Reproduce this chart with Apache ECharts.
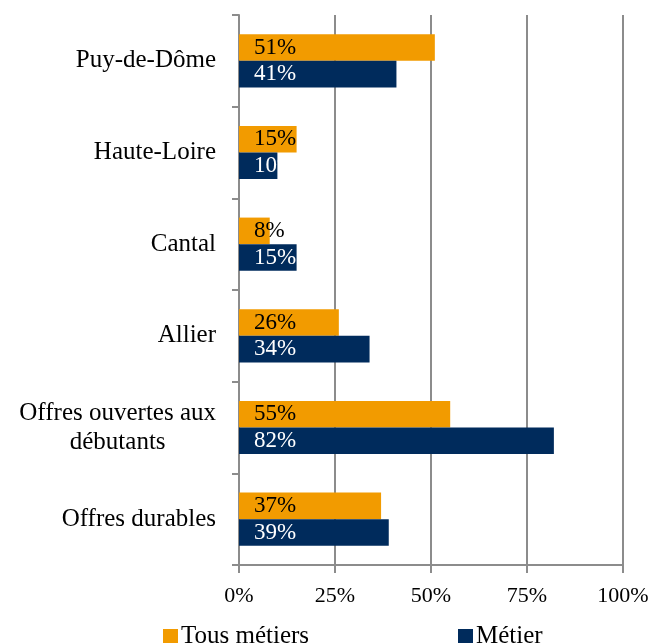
<!DOCTYPE html>
<html><head><meta charset="utf-8">
<script src="https://cdn.jsdelivr.net/npm/echarts@6/dist/echarts.min.js"></script>
<style>html,body{margin:0;padding:0;background:#fff}#c{width:654px;height:643px}</style>
</head><body><div id="c"></div>
<script>
var categories = ['Offres durables', 'Offres ouvertes aux\ndébutants', 'Allier', 'Cantal', 'Haute-Loire', 'Puy-de-Dôme'];
var tousMetiers = [37, 55, 26, 8, 15, 51];
var metier = [39, 82, 34, 15, 10, 41];
var xTicks = [0, 25, 50, 75, 100];
var seriesNames = ['Tous métiers', 'Métier'];

var FONT = '"Liberation Serif", serif';
var chart = echarts.init(document.getElementById('c'), null, {renderer: 'canvas'});
chart.setOption({
  animation: false,
  grid: {left: 239, right: 31, top: 15, bottom: 78, containLabel: false},
  legend: [
    {data: [seriesNames[0]], left: 158, top: 619, itemWidth: 15, itemHeight: 15, itemGap: 0,
     textStyle: {fontFamily: FONT, fontSize: 25, color: '#000', padding: [0,0,0,-2]}, icon: 'rect'},
    {data: [seriesNames[1]], left: 453, top: 619, itemWidth: 15, itemHeight: 15, itemGap: 0,
     textStyle: {fontFamily: FONT, fontSize: 25, color: '#000', padding: [0,0,0,-2]}, icon: 'rect'}
  ],
  xAxis: {
    type: 'value', min: xTicks[0], max: xTicks[xTicks.length-1], interval: 25,
    axisLine: {show: true, lineStyle: {color: '#8c8c8c', width: 2}},
    axisTick: {show: true, length: 8, lineStyle: {color: '#8c8c8c', width: 2}},
    splitLine: {show: true, lineStyle: {color: '#8c8c8c', width: 2}},
    axisLabel: {formatter: '{value}%', fontFamily: FONT, fontSize: 22, color: '#000', margin: 20}
  },
  yAxis: {
    type: 'category', data: categories,
    axisLine: {show: true, lineStyle: {color: '#8c8c8c', width: 2}},
    axisTick: {show: true, length: 7, lineStyle: {color: '#8c8c8c', width: 2}},
    axisLabel: {
      fontFamily: FONT, fontSize: 25, color: '#000', margin: 23, lineHeight: 29,
      formatter: function (v) { return v.split('\n').map(function (l) { return '{c|' + l + '}'; }).join('\n'); },
      rich: {c: {align: 'center', fontFamily: FONT, fontSize: 25, color: '#000', lineHeight: 29}}
    }
  },
  series: [
    {name: seriesNames[0], type: 'bar', data: tousMetiers, barGap: '0%', barCategoryGap: '42%',
     itemStyle: {color: '#F29B00'},
     label: {show: true, position: 'insideLeft', distance: 15, formatter: '{c}%', fontFamily: FONT, fontSize: 23, color: '#000'}},
    {name: seriesNames[1], type: 'bar', data: metier, barGap: '0%', barCategoryGap: '42%',
     itemStyle: {color: '#002B5C'},
     label: {show: true, position: 'insideLeft', distance: 15, formatter: '{c}%', fontFamily: FONT, fontSize: 23, color: '#fff'}}
  ]
});
</script></body></html>
